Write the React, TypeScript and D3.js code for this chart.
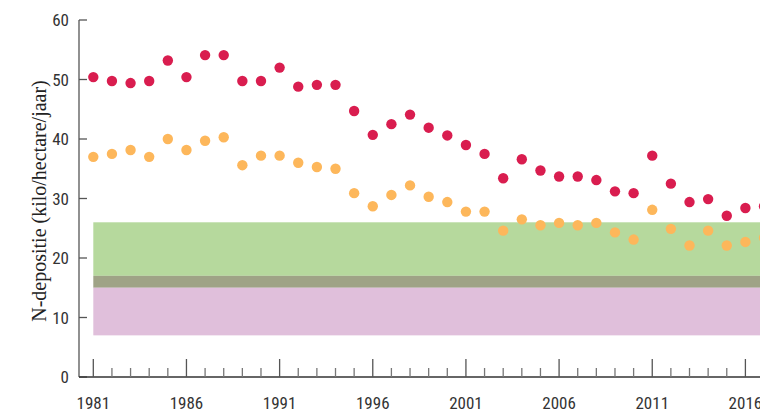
import React from "react";
import * as d3 from "d3";

const years = d3.range(1981, 2018);
const redValues = [
  50.4, 49.75, 49.4, 49.75, 53.2, 50.4, 54.1, 54.1, 49.75, 49.75,
  52.0, 48.8, 49.1, 49.1, 44.7, 40.7, 42.5, 44.1, 41.9, 40.6,
  39.0, 37.5, 33.4, 36.6, 34.7, 33.7, 33.7, 33.1, 31.2, 30.9,
  37.2, 32.5, 29.4, 29.9, 27.1, 28.4, 28.7,
];
const orangeValues = [
  37.0, 37.5, 38.15, 37.0, 40.0, 38.15, 39.7, 40.3, 35.6, 37.2,
  37.2, 36.0, 35.3, 35.0, 30.9, 28.7, 30.6, 32.2, 30.3, 29.4,
  27.8, 27.8, 24.6, 26.5, 25.5, 25.9, 25.5, 25.9, 24.3, 23.1,
  28.1, 24.9, 22.1, 24.6, 22.1, 22.7, 23.4,
];
const bands = [
  { from: 17, to: 26, color: "#b6d99d" },
  { from: 15, to: 17, color: "#9fa386" },
  { from: 7, to: 15, color: "#e0bfdb" },
];
const yTicks = [0, 10, 20, 30, 40, 50, 60];
const xLabelYears = [1981, 1986, 1991, 1996, 2001, 2006, 2011, 2016];
const yTitle = "N-depositie (kilo/hectare/jaar)";

const W = 760;
const H = 412;

export default function App() {
  const x = d3.scaleLinear().domain([1981, 2016]).range([93.3, 745.4]);
  const y = d3.scaleLinear().domain([0, 60]).range([377, 20]);
  const axisX = 79;
  const numFont = "'Liberation Sans Narrow', 'Roboto Condensed', 'Arial Narrow', sans-serif";
  const tickYears = d3.range(1981, 2020);

  return (
    <div style={{ position: "absolute", left: 0, top: 0 }}>
      <svg width={W} height={H} style={{ display: "block", overflow: "hidden" }}>
        <rect x={0} y={0} width={W} height={H} fill="#ffffff" />
        {bands.map((b, i) => (
          <rect
            key={i}
            x={x(1981)}
            y={y(b.to)}
            width={W - x(1981)}
            height={y(b.from) - y(b.to)}
            fill={b.color}
          />
        ))}
        {/* y axis */}
        <line x1={axisX} x2={axisX} y1={y(60)} y2={y(0)} stroke="#555" strokeWidth={1.3} />
        {yTicks.map((t) => (
          <g key={t}>
            <line x1={axisX} x2={axisX + 8} y1={y(t)} y2={y(t)} stroke="#555" strokeWidth={1.3} />
            <text
              x={axisX - 10}
              y={y(t)}
              dy="0.36em"
              textAnchor="end"
              fontFamily={numFont}
              fontSize={17}
              fill="#333"
            >
              {t}
            </text>
          </g>
        ))}
        {/* x axis */}
        <line x1={axisX} x2={W} y1={y(0)} y2={y(0)} stroke="#333" strokeWidth={1.5} />
        {tickYears.map((yr) => {
          const major = (yr - 1981) % 5 === 0;
          return (
            <line
              key={yr}
              x1={x(yr)}
              x2={x(yr)}
              y1={y(0)}
              y2={y(0) - (major ? 18 : 9)}
              stroke={major ? "#555" : "#777"}
              strokeWidth={1.3}
            />
          );
        })}
        {xLabelYears.map((yr) => (
          <text
            key={yr}
            x={x(yr)}
            y={409}
            textAnchor="middle"
            fontFamily={numFont}
            fontSize={17}
            fill="#333"
          >
            {yr}
          </text>
        ))}
        {/* y title */}
        <text
          transform={`translate(46, 201) rotate(-90)`}
          textAnchor="middle"
          fontFamily="'Liberation Serif', 'DejaVu Serif', serif"
          fontSize={20}
          fill="#222"
        >
          {yTitle}
        </text>
        {/* dots */}
        {years.map((yr, i) => (
          <circle key={"o" + yr} cx={x(yr)} cy={y(orangeValues[i])} r={5.2} fill="#fdb75b" />
        ))}
        {years.map((yr, i) => (
          <circle key={"r" + yr} cx={x(yr)} cy={y(redValues[i])} r={5.2} fill="#d91d4f" />
        ))}
      </svg>
    </div>
  );
}
